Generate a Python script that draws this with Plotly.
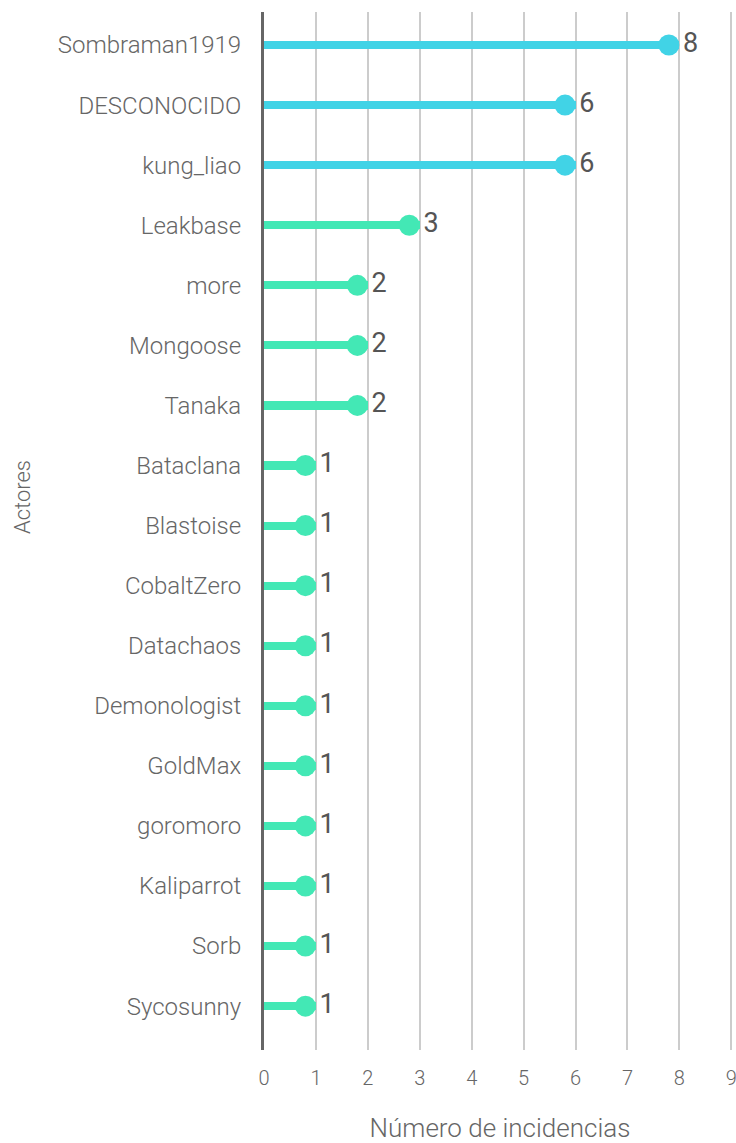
import plotly.graph_objects as go

actores = ["Sombraman1919", "DESCONOCIDO", "kung_liao", "Leakbase", "more", "Mongoose",
           "Tanaka", "Bataclana", "Blastoise", "CobaltZero", "Datachaos", "Demonologist",
           "GoldMax", "goromoro", "Kaliparrot", "Sorb", "Sycosunny"]
incidencias = [8, 6, 6, 3, 2, 2, 2, 1, 1, 1, 1, 1, 1, 1, 1, 1, 1]
x_ticks = list(range(0, 10))

W, H = 736, 1143
M_L, M_R, M_T, M_B = 264, 0, 12, 93
X_MAX = 9.09
px_per_unit = (W - M_L - M_R) / X_MAX
plot_h = H - M_T - M_B
dot_size = 21

CYAN = "#41d3e6"
GREEN = "#43e8b5"
TEXT = "#666666"
colors = [CYAN if v >= 6 else GREEN for v in incidencias]

# dot sits with its right edge on the value
dot_x = [v - (dot_size / 2) / px_per_unit for v in incidencias]

fig = go.Figure()
fig.add_trace(go.Bar(
    y=actores, x=incidencias, orientation="h", width=0.135,
    marker=dict(color=colors, line=dict(width=0)), hoverinfo="skip",
))
fig.add_trace(go.Scatter(
    y=actores, x=dot_x, mode="markers+text",
    marker=dict(size=dot_size, color=colors, line=dict(width=0)),
    text=[str(v) for v in incidencias], textposition="middle right",
    textfont=dict(family="Roboto", size=27, color="#555555", weight=400),
    cliponaxis=False,
))

fig.update_layout(
    width=W, height=H, showlegend=False,
    margin=dict(l=M_L, r=M_R, t=M_T, b=M_B),
    plot_bgcolor="white", paper_bgcolor="white",
    font=dict(family="Roboto", color=TEXT, weight=300),
    bargap=0,
    annotations=[dict(
        text="Actores", textangle=-90, showarrow=False,
        xref="paper", yref="paper",
        x=(22 - M_L) / (W - M_L - M_R), y=(H - M_B - 497) / plot_h,
        xanchor="center", yanchor="middle",
        font=dict(size=22, color=TEXT, family="Roboto", weight=300),
    )],
)
fig.update_xaxes(
    range=[0, X_MAX], tickvals=x_ticks, showgrid=True, gridcolor="#cccccc", gridwidth=2,
    zeroline=False, showline=False, ticks="", ticklabelstandoff=14,
    ticklabeloverflow="allow",
    tickfont=dict(size=20, color=TEXT, family="Roboto", weight=300),
    title=dict(text="Número de incidencias", font=dict(size=26, color=TEXT, family="Roboto", weight=300), standoff=31),
)
fig.update_yaxes(
    categoryorder="array", categoryarray=actores, autorange=False,
    range=[len(actores) - 1 + 0.73, -0.55],
    showgrid=False, zeroline=False, showline=True, linecolor=TEXT, linewidth=3,
    ticks="", ticklabelstandoff=15,
    tickfont=dict(size=24, color=TEXT, family="Roboto", weight=300),
)

fig.write_html("out.html")
